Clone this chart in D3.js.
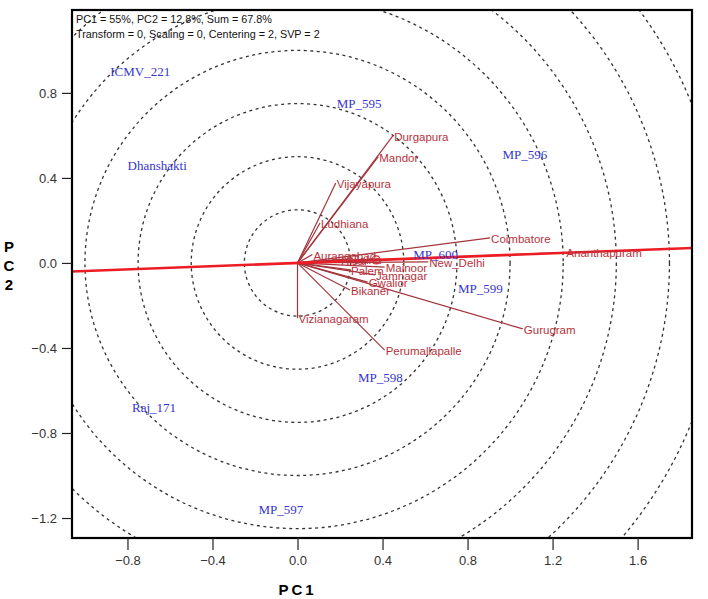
<!DOCTYPE html>
<html>
<head>
<meta charset="utf-8">
<script src="https://cdn.jsdelivr.net/npm/d3@7"></script>
<style>
  html, body { margin: 0; padding: 0; background: #fff; }
  svg { display: block; }
</style>
</head>
<body>
<svg id="chart" width="708" height="599"></svg>
<script>
// ---- data ----
const envNames = ["Durgapura","Mandor","Vijayapura","Ludhiana","Aurangabad","Hisar","Jalna","Coimbatore","Ananthapuram","New_Delhi","Mainoor","Palem","Jamnagar","Gwalior","Bikaner","Gurugram","Perumallapalle","Vizianagaram"];
const envX = [0.45, 0.38, 0.18, 0.106, 0.07, 0.20, 0.26, 0.906, 1.26, 0.615, 0.41, 0.247, 0.365, 0.33, 0.247, 1.06, 0.41, 0.0];
const envY = [0.60, 0.50, 0.376, 0.188, 0.04, 0.015, 0.02, 0.118, 0.05, 0.005, -0.02, -0.033, -0.056, -0.09, -0.127, -0.31, -0.41, -0.26];

const genoNames = ["ICMV_221","MP_595","Dhanshakti","MP_596","MP_600","MP_599","MP_598","Raj_171","MP_597"];
const genoX = [-0.74, 0.29, -0.66, 1.07, 0.65, 0.86, 0.39, -0.675, -0.078];
const genoY = [0.90, 0.75, 0.46, 0.51, 0.04, -0.12, -0.54, -0.68, -1.16];

const xTicks = [-0.8, -0.4, 0.0, 0.4, 0.8, 1.2, 1.6];
const yTicks = [-1.2, -0.8, -0.4, 0.0, 0.4, 0.8];
const circleRadii = [0.25, 0.5, 0.75, 1.0, 1.25, 1.5, 1.75, 2.0, 2.25];
const aeaSlope = 0.038;           // average-environment axis through origin
const aeaMarker = [0.37, 0.014];  // average environment
const infoLines = ["PC1 = 55%, PC2 = 12.8%, Sum = 67.8%", "Transform = 0, Scaling = 0, Centering = 2, SVP = 2"];

// ---- layout ----
const L = 72, R = 692, T = 10, B = 538;
const x = d3.scaleLinear().domain([-1.061, 1.856]).range([L, R]);
const y = d3.scaleLinear().domain([-1.294, 1.19]).range([B, T]);

const svg = d3.select("#chart");
svg.append("defs").append("clipPath").attr("id", "plotclip")
  .append("rect").attr("x", L).attr("y", T).attr("width", R - L).attr("height", B - T);

const plot = svg.append("g").attr("clip-path", "url(#plotclip)");

// concentric circles
const pxPerUnit = x(1) - x(0);
plot.selectAll("circle.ring").data(circleRadii).enter().append("circle")
  .attr("class", "ring")
  .attr("cx", x(0)).attr("cy", y(0))
  .attr("r", d => d * pxPerUnit)
  .attr("fill", "none").attr("stroke", "#333").attr("stroke-width", 1.3)
  .attr("stroke-dasharray", "3,3.5");

// environment vectors
const envs = envNames.map((n, i) => ({n, x: envX[i], y: envY[i]}));
plot.selectAll("line.env").data(envs).enter().append("line")
  .attr("x1", x(0)).attr("y1", y(0))
  .attr("x2", d => x(d.x)).attr("y2", d => y(d.y))
  .attr("stroke", "#a3343c").attr("stroke-width", 1.2);

// AEA line
const xd = x.domain();
plot.append("line")
  .attr("x1", x(xd[0])).attr("y1", y(xd[0] * aeaSlope))
  .attr("x2", x(xd[1])).attr("y2", y(xd[1] * aeaSlope))
  .attr("stroke", "#ec1c24").attr("stroke-width", 2.6);
plot.append("circle")
  .attr("cx", x(aeaMarker[0])).attr("cy", y(aeaMarker[1])).attr("r", 4)
  .attr("fill", "none").attr("stroke", "#ec1c24").attr("stroke-width", 1.3);

// environment labels
plot.selectAll("text.env").data(envs).enter().append("text")
  .attr("x", d => x(d.x) + 1).attr("y", d => y(d.y))
  .attr("dy", "0.45em")
  .attr("font-family", "Liberation Sans, Arial, sans-serif")
  .attr("font-size", 11.5)
  .attr("fill", "#b8323c")
  .text(d => d.n);

// genotype labels
const genos = genoNames.map((n, i) => ({n, x: genoX[i], y: genoY[i]}));
plot.selectAll("text.geno").data(genos).enter().append("text")
  .attr("x", d => x(d.x)).attr("y", d => y(d.y))
  .attr("dy", "0.35em").attr("text-anchor", "middle")
  .attr("font-family", "Liberation Serif, Times New Roman, serif")
  .attr("font-size", 13)
  .attr("fill", "#3535d0")
  .text(d => d.n);

// info text
svg.selectAll("text.info").data(infoLines).enter().append("text")
  .attr("x", L + 4).attr("y", (d, i) => T + 13 + i * 15)
  .attr("font-family", "Liberation Sans, Arial, sans-serif")
  .attr("font-size", 10.8).attr("fill", "#111")
  .text(d => d);

// frame
svg.append("rect").attr("x", L).attr("y", T).attr("width", R - L).attr("height", B - T)
  .attr("fill", "none").attr("stroke", "#000").attr("stroke-width", 2.2);

// axes
const xAxis = svg.append("g").attr("transform", `translate(0,${B})`)
  .call(d3.axisBottom(x).tickValues(xTicks).tickFormat(d3.format(".1f")).tickSize(12).tickPadding(6));
const yAxis = svg.append("g").attr("transform", `translate(${L},0)`)
  .call(d3.axisLeft(y).tickValues(yTicks).tickFormat(d3.format(".1f")).tickSize(10).tickPadding(5));
[xAxis, yAxis].forEach(g => {
  g.select(".domain").remove();
  g.selectAll(".tick line").attr("stroke", "#222").attr("stroke-width", 1.2);
  g.selectAll(".tick text").attr("font-family", "Liberation Sans, Arial, sans-serif")
    .attr("font-size", 13).attr("fill", "#333");
});

// axis titles
svg.append("text").attr("x", x(0)).attr("y", 595)
  .attr("text-anchor", "middle")
  .attr("font-family", "Liberation Sans, Arial, sans-serif")
  .attr("font-size", 15).attr("font-weight", "bold").attr("letter-spacing", 3)
  .text("PC1");
const yt = svg.append("text")
  .attr("font-family", "Liberation Sans, Arial, sans-serif")
  .attr("font-size", 15).attr("font-weight", "bold").attr("text-anchor", "middle");
["P", "C", "2"].forEach((c, i) => {
  yt.append("tspan").attr("x", 9).attr("y", 252 + i * 19).text(c);
});
</script>
</body>
</html>
